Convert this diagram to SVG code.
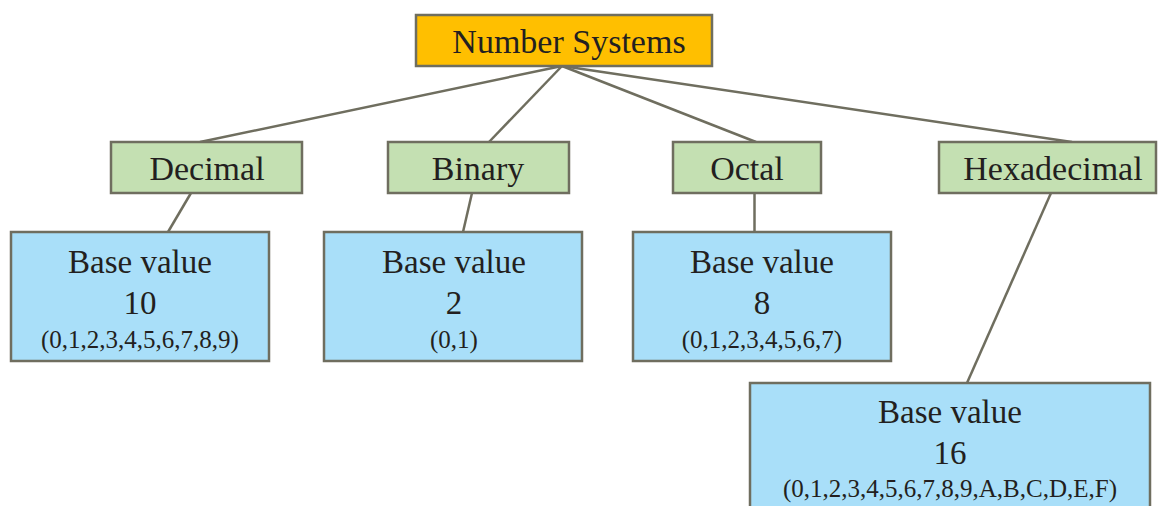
<svg xmlns="http://www.w3.org/2000/svg" width="1158" height="506" viewBox="0 0 1158 506">
<style>
.box{stroke:#6f6e5f;stroke-width:2.5}
.root{fill:#ffbf00}
.cat{fill:#c4e0b2}
.val{fill:#a9dff9}
.conn line{stroke:#6f6e5f;stroke-width:2.5}
text{font-family:"Liberation Serif","Times New Roman",serif;fill:#231f20;text-anchor:middle}
.t1{font-size:34px}
.t2{font-size:33px}
.t3{font-size:25px}
</style>
<rect width="1158" height="506" fill="#ffffff"/>
<g id="connectors" class="conn">
<line x1="562" y1="66" x2="200" y2="142"/>
<line x1="562" y1="66" x2="489" y2="142"/>
<line x1="562" y1="66" x2="756" y2="142"/>
<line x1="562" y1="66" x2="1072" y2="142"/>
<line x1="191" y1="193" x2="168" y2="232"/>
<line x1="472" y1="193" x2="463" y2="232"/>
<line x1="754.5" y1="193" x2="754.5" y2="232"/>
<line x1="1051" y1="193" x2="967" y2="383"/>
</g>
<g id="root">
<rect class="box root" x="416" y="15" width="296" height="51"/>
<text class="t1" x="569" y="53">Number Systems</text>
</g>
<g id="decimal">
<rect class="box cat" x="111" y="142" width="191" height="51"/>
<text class="t1" x="207" y="180">Decimal</text>
</g>
<g id="binary">
<rect class="box cat" x="388" y="142" width="181" height="51"/>
<text class="t1" x="478" y="180">Binary</text>
</g>
<g id="octal">
<rect class="box cat" x="673" y="142" width="148" height="51"/>
<text class="t1" x="747" y="180">Octal</text>
</g>
<g id="hexadecimal">
<rect class="box cat" x="939" y="142" width="217" height="51"/>
<text class="t1" x="1053" y="180">Hexadecimal</text>
</g>
<g id="base10">
<rect class="box val" x="11" y="232" width="258" height="129"/>
<text class="t2" x="140" y="273">Base value</text>
<text class="t2" x="140" y="314">10</text>
<text class="t3" x="140" y="348">(0,1,2,3,4,5,6,7,8,9)</text>
</g>
<g id="base2">
<rect class="box val" x="324" y="232" width="258" height="129"/>
<text class="t2" x="454" y="273">Base value</text>
<text class="t2" x="454" y="314">2</text>
<text class="t3" x="454" y="348">(0,1)</text>
</g>
<g id="base8">
<rect class="box val" x="633" y="232" width="258" height="129"/>
<text class="t2" x="762" y="273">Base value</text>
<text class="t2" x="762" y="314">8</text>
<text class="t3" x="762" y="348">(0,1,2,3,4,5,6,7)</text>
</g>
<g id="base16">
<rect class="box val" x="750" y="383" width="400" height="140"/>
<text class="t2" x="950" y="423">Base value</text>
<text class="t2" x="950" y="464">16</text>
<text class="t3" x="950" y="497">(0,1,2,3,4,5,6,7,8,9,A,B,C,D,E,F)</text>
</g>
</svg>
